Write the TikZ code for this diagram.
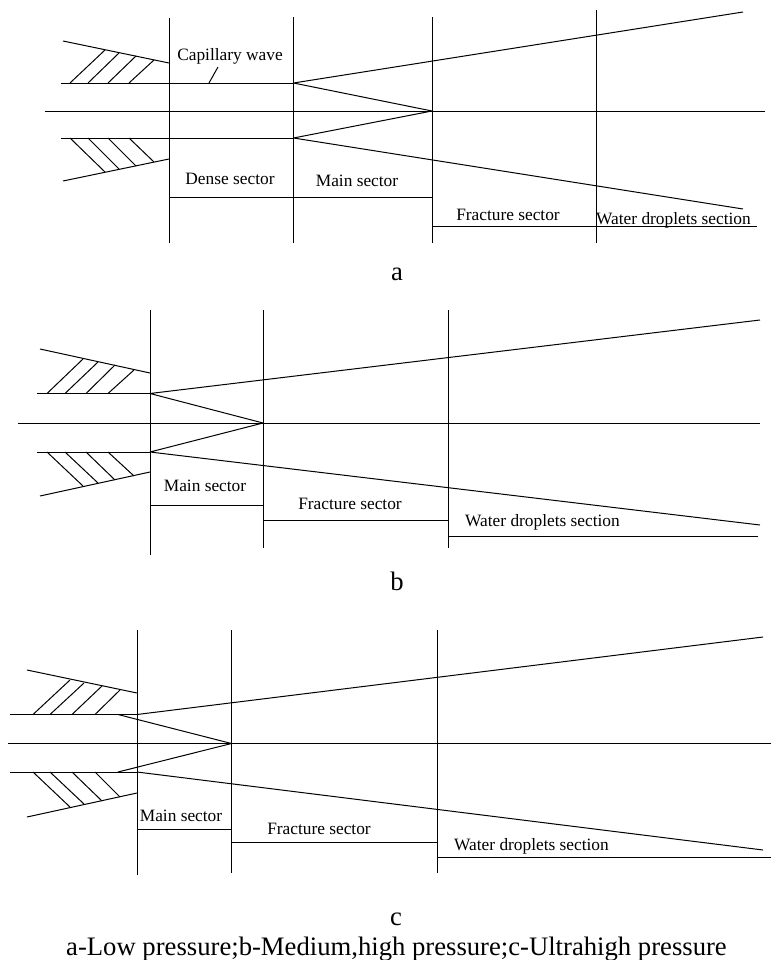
\documentclass[tikz,border=0pt]{standalone}
\usepackage{fontspec}
\setmainfont{Liberation Serif}
\tikzset{
  ln/.style={draw=black,line width=0.75pt},
  lbl/.style={inner sep=0pt,anchor=base,font=\fontsize{13}{15}\selectfont},
  big/.style={inner sep=0pt,anchor=base,font=\fontsize{20}{24}\selectfont}
}
\begin{document}
\begin{tikzpicture}[x=0.75pt,y=-0.75pt]
\useasboundingbox (0,0) rectangle (771,960);
\fill[white] (0,0) rectangle (771,960);
% panel a
\draw[ln] (169,18)--(169,243) (293.5,17)--(293.5,243) (432,17)--(432,243) (596,10)--(596,243);
\draw[ln] (63,41)--(169,63) (63,181)--(169,159);
\draw[ln] (61,83)--(293.5,83) (61,138)--(293.5,138) (45,111)--(765,111);
\draw[ln] (293.5,83)--(743,12) (293.5,83)--(432,111) (293.5,138)--(432,111) (293.5,138)--(743,209);
\draw[ln] (169,197)--(432,197) (432,226)--(757,226);
\draw[ln] (70,83)--(105,50) (88,83)--(119,53) (108,83)--(136,56) (129,83)--(154,60);
\draw[ln] (70,138)--(105,172) (88,138)--(119,169) (108,138)--(136,166) (129,138)--(154,162);
\draw[ln] (209,83)--(218,67);
\node[lbl] (a1) at (230,60) {Capillary wave};
\node[lbl] (a2) at (230,184) {Dense sector};
\node[lbl] (a3) at (357,186) {Main sector};
\node[lbl] (a4) at (508,220) {Fracture sector};
\node[lbl] (a5) at (673.5,224) {Water droplets section};
\node[big] (la) at (397,280.5) {a};
% panel b
\draw[ln] (150,310)--(150,555) (263,310)--(263,548) (448,310)--(448,548);
\draw[ln] (40,349)--(150,373) (40,496)--(150,472);
\draw[ln] (37,393.5)--(150,393.5) (37,452)--(150,452) (18,423)--(760,423);
\draw[ln] (150,393.5)--(760,320) (150,393.5)--(263,423) (150,452)--(263,423) (150,452)--(760,525);
\draw[ln] (150,505)--(263,505) (263,520)--(448,520) (448,536)--(758,536);
\draw[ln] (47,393.5)--(83,359) (65,393.5)--(98,362) (86,393.5)--(115,365) (108,393.5)--(134,370);
\draw[ln] (47,452)--(83,486) (65,452)--(98,483) (86,452)--(115,480) (108,452)--(134,476);
\node[lbl] (b1) at (205,491.5) {Main sector};
\node[lbl] (b2) at (350,509) {Fracture sector};
\node[lbl] (b3) at (542.5,526) {Water droplets section};
\node[big] (lb) at (397,590.5) {b};
% panel c
\draw[ln] (137,630)--(137,875) (231.5,630)--(231.5,873) (437,630)--(437,873);
\draw[ln] (27,670)--(137,693) (27,817)--(137,793);
\draw[ln] (10,714.5)--(137,714.5) (10,772)--(137,772) (8,743.5)--(771,743.5);
\draw[ln] (137,714.5)--(763,637) (118,714.5)--(231.5,743.5) (118,772)--(231.5,743.5) (137,772)--(763,850);
\draw[ln] (137,829)--(231.5,829) (231.5,842)--(437,842) (437,857)--(771,857);
\draw[ln] (33,714.5)--(70,680) (50,714.5)--(84,683) (72,714.5)--(102,686) (95,714.5)--(120,690);
\draw[ln] (33,772)--(70,807) (50,772)--(84,804) (72,772)--(102,801) (95,772)--(120,797);
\node[lbl] (c1) at (181,821) {Main sector};
\node[lbl] (c2) at (319,834) {Fracture sector};
\node[lbl] (c3) at (531.5,850) {Water droplets section};
\node[big] (lc) at (396,925) {c};
\node[big] (cap) at (396.5,955.5) {a-Low pressure;b-Medium,high pressure;c-Ultrahigh pressure};
\end{tikzpicture}
\end{document}
